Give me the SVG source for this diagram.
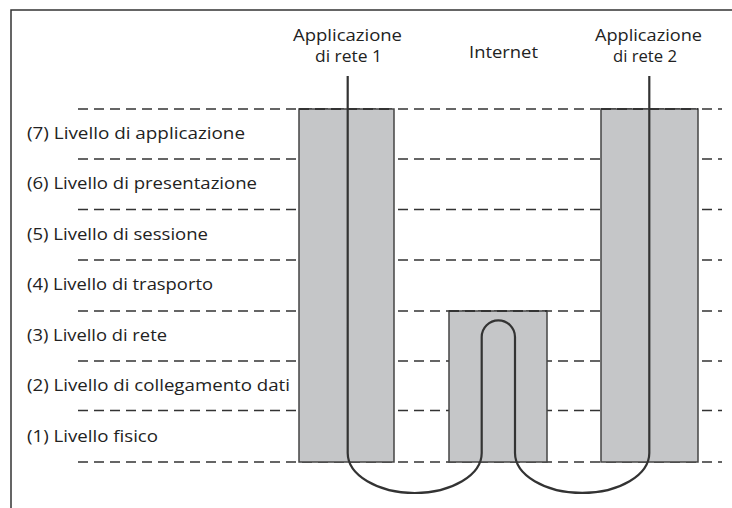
<svg xmlns="http://www.w3.org/2000/svg" width="732" height="508" viewBox="0 0 732 508">
<style>
.lbl{font-family:"Open Sans","Liberation Sans",sans-serif;font-size:16px;fill:#222}
.dash{stroke:#333;stroke-width:1.3;stroke-dasharray:10 6;fill:none}
.box{fill:#c5c6c8;stroke:#444;stroke-width:1.5}
.cable{fill:none;stroke:#333;stroke-width:2.2}
.frame{stroke:#333;stroke-width:1.5;fill:none}
</style>
<rect width="732" height="508" fill="#fff"/>
<g id="frame"><path class="frame" d="M11,508 V10 H732"/></g>
<g id="layers">
<line class="dash" x1="78" y1="109" x2="722" y2="109"/>
<line class="dash" x1="78" y1="159" x2="722" y2="159"/>
<line class="dash" x1="78" y1="209.5" x2="722" y2="209.5"/>
<line class="dash" x1="78" y1="260" x2="722" y2="260"/>
<line class="dash" x1="78" y1="311" x2="722" y2="311"/>
<line class="dash" x1="78" y1="361" x2="722" y2="361"/>
<line class="dash" x1="78" y1="410.5" x2="722" y2="410.5"/>
<line class="dash" x1="78" y1="462" x2="722" y2="462"/>
<text class="lbl" x="27" y="139" textLength="218" lengthAdjust="spacingAndGlyphs">(7) Livello di applicazione</text>
<text class="lbl" x="27" y="189" textLength="230" lengthAdjust="spacingAndGlyphs">(6) Livello di presentazione</text>
<text class="lbl" x="27" y="239.5" textLength="181" lengthAdjust="spacingAndGlyphs">(5) Livello di sessione</text>
<text class="lbl" x="27" y="290" textLength="186" lengthAdjust="spacingAndGlyphs">(4) Livello di trasporto</text>
<text class="lbl" x="27" y="340.5" textLength="140" lengthAdjust="spacingAndGlyphs">(3) Livello di rete</text>
<text class="lbl" x="27" y="391" textLength="263" lengthAdjust="spacingAndGlyphs">(2) Livello di collegamento dati</text>
<text class="lbl" x="27" y="442" textLength="131" lengthAdjust="spacingAndGlyphs">(1) Livello fisico</text>
</g>
<g id="node-app1">
<rect class="box" x="299" y="109" width="95" height="353"/>
<text class="lbl" x="293" y="40.5" textLength="109" lengthAdjust="spacingAndGlyphs">Applicazione</text>
<text class="lbl" x="315" y="62" textLength="67" lengthAdjust="spacingAndGlyphs">di rete 1</text>
</g>
<g id="node-internet">
<rect class="box" x="449" y="311" width="98" height="151"/>
<text class="lbl" x="469" y="57.5" textLength="69" lengthAdjust="spacingAndGlyphs">Internet</text>
</g>
<g id="node-app2">
<rect class="box" x="601" y="109" width="97" height="353"/>
<text class="lbl" x="595" y="40.5" textLength="107" lengthAdjust="spacingAndGlyphs">Applicazione</text>
<text class="lbl" x="613" y="62" textLength="64" lengthAdjust="spacingAndGlyphs">di rete 2</text>
</g>
<g id="tops">
<line class="dash" x1="299" y1="109" x2="394" y2="109" style="stroke-width:2"/>
<line class="dash" x1="449" y1="311" x2="547" y2="311" style="stroke-width:2"/>
<line class="dash" x1="601" y1="109" x2="698" y2="109" style="stroke-width:2"/>
</g>
<g id="connectors">
<path class="cable" d="M347.7,76 V453 A67,40 0 0 0 481.7,453 V337 A16.65,16.65 0 0 1 515,337 V453 A67.15,40 0 0 0 649.3,453 V76"/>
</g>
</svg>
